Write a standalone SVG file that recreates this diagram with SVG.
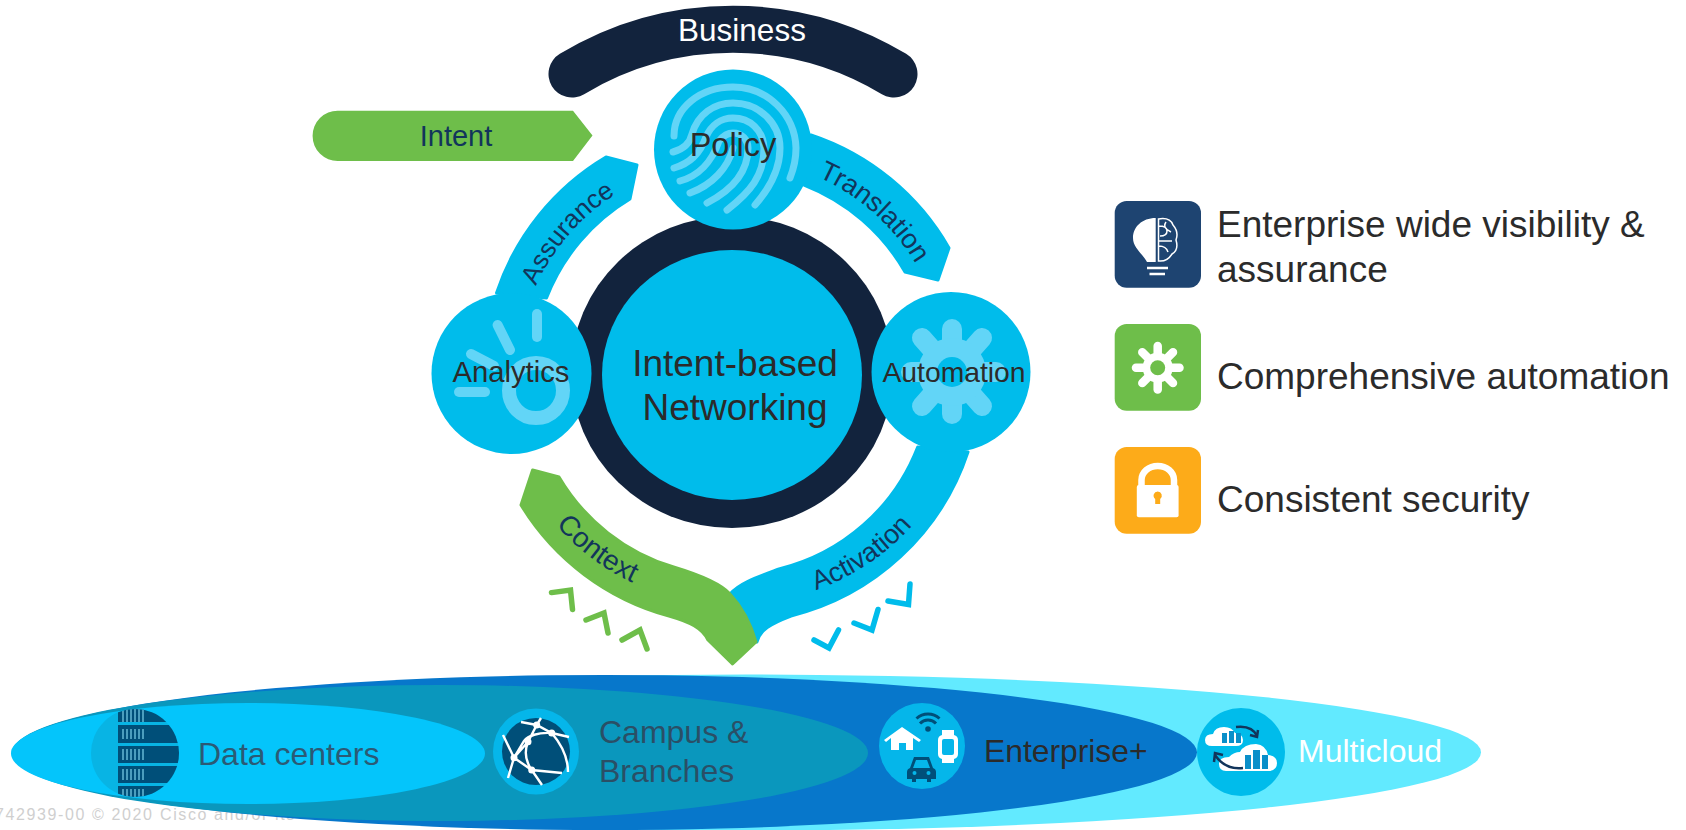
<svg xmlns="http://www.w3.org/2000/svg" width="1686" height="830" viewBox="0 0 1686 830">
<style>
text{font-family:"Liberation Sans",Arial,sans-serif;fill:#2b2b2b}
.blue{fill:#00BCEB}.green{fill:#6EBE4A}
.conn{stroke-width:3;stroke-linejoin:round}
.conn.blue{stroke:#00BCEB}.conn.green{stroke:#6EBE4A}
.cl{font-size:27px;fill:#12355B}
.pale{fill:none;stroke:#62D5F7;stroke-linecap:round}
.chevg{fill:none;stroke:#6EBE4A;stroke-width:5.500;stroke-linecap:round}
.chevb{fill:none;stroke:#00BCEB;stroke-width:5.500;stroke-linecap:round}
.dark{fill:#004F79}
.side{font-size:37px}
.band{font-size:32px}
</style>
<defs>
<clipPath id="dcClip"><ellipse cx="135" cy="753" rx="44" ry="44"/></clipPath>
<path id="pTranslation" d="M818 177A214 214 0 0 1 940 325"/>
<path id="pAssurance" d="M536 286A213 213 0 0 1 640 181"/>
<path id="pContext" d="M556 525A232 232 0 0 0 680 599"/>
<path id="pActivation" d="M816 590A232 232 0 0 0 940 487"/>
</defs>
<rect width="1686" height="830" fill="#fff"/>

<text y="820" font-size="16" style="fill:#cfcfcf" letter-spacing="1.600"><tspan x="-5">742939-00 © 2020</tspan><tspan x="160">Cisco and/or its</tspan></text>

<g id="band">
<ellipse cx="746" cy="752.500" rx="735" ry="78" fill="#62EAFF"/>
<ellipse cx="605" cy="752.500" rx="592" ry="77.500" fill="#0777CB"/>
<ellipse cx="440" cy="753" rx="428" ry="68" fill="#0A97BD"/>
<ellipse cx="248" cy="753.500" rx="237" ry="50.500" fill="#04C5FB"/>
</g>

<g id="data-centers">
<ellipse cx="135" cy="753" rx="44" ry="44" fill="#08B4E4"/>
<g clip-path="url(#dcClip)">
<rect class="dark" x="118" y="708" width="62" height="14"/>
<rect class="dark" x="118" y="725" width="62" height="18"/>
<rect class="dark" x="118" y="746" width="62" height="17"/>
<rect class="dark" x="118" y="766" width="62" height="17"/>
<rect class="dark" x="118" y="786" width="62" height="12"/>
<path d="M123 708V722M127 708V722M131 708V722M135 708V722M139 708V722M143 708V722M123 729V739M127 729V739M131 729V739M135 729V739M139 729V739M143 729V739M123 749V760M127 749V760M131 749V760M135 749V760M139 749V760M143 749V760M123 769V780M127 769V780M131 769V780M135 769V780M139 769V780M143 769V780M123 789V798M127 789V798M131 789V798M135 789V798M139 789V798M143 789V798" stroke="#7FD3EC" stroke-width="1.200" fill="none"/>
</g>
<text class="band" x="198" y="765" style="fill:#2B5A75">Data centers</text>
</g>

<g id="campus">
<ellipse cx="536" cy="751.500" rx="43" ry="43" fill="#05B6EA"/>
<ellipse class="dark" cx="536" cy="751.500" rx="34" ry="33.500"/>
<path d="M521 722L536.700 725L551.700 733L569 737M541 718L536.700 725L528 741.700L514 757.700L503 735M551.700 733C538 732 528 736 524 741L514 757.700L508 778M528 741.700C524 752 526 762 531.700 770L542 785M514 757.700L531.700 770L562 773M551.700 733C562 745 568 757 568 772" fill="none" stroke="#fff" stroke-width="2.400"/>
<g fill="#fff"><circle cx="536.700" cy="725" r="3.500"/><circle cx="551.700" cy="733" r="3.500"/><circle cx="528" cy="741.700" r="3.500"/><circle cx="514" cy="757.700" r="3.500"/><circle cx="531.700" cy="770" r="3.500"/></g>
<text class="band" x="599" y="743" style="fill:#2A4F66">Campus &amp;</text>
<text class="band" x="599" y="782" style="fill:#2A4F66">Branches</text>
</g>

<g id="enterprise">
<ellipse cx="922" cy="746" rx="43" ry="43" fill="#05B6EA"/>
<path d="M884 740L902 727L921 740L919 742L913 738V750H906V743H899V750H891V738L886 742Z" fill="#fff"/>
<path d="M916.500 718.500A17 17 0 0 1 939.500 718.500M920 723.500A11 11 0 0 1 936 723.500" fill="none" stroke="#004F79" stroke-width="3"/>
<circle class="dark" cx="928" cy="729" r="2.800"/>
<path d="M942 730H954V735Q958 736 958 740V754Q958 758 954 759V763H942V759Q938 758 938 754V740Q938 736 942 735Z" fill="#fff"/>
<rect x="942" y="739" width="12" height="16" rx="2" fill="#05B6EA"/>
<path class="dark" d="M914 757H929L933 768Q936 769 936 772V779H931V782H927V779H916V782H912V779H907V772Q907 769 910 768ZM916 760L913 768H930L927 760Z"/>
<circle cx="914.500" cy="773" r="2" fill="#05B6EA"/><circle cx="928.500" cy="773" r="2" fill="#05B6EA"/>
<text class="band" x="984" y="762" style="font-size:31.800px">Enterprise+</text>
</g>

<g id="multicloud">
<ellipse cx="1241" cy="752" rx="44" ry="44" fill="#00BCEB"/>
<path d="M1212 746Q1205 746 1205 740Q1205 734 1213 734Q1215 727 1224 727Q1232 727 1235 733Q1243 734 1243 740Q1243 746 1236 746Z" fill="#fff"/>
<path d="M1226 771Q1219 771 1219 764Q1219 757 1229 757Q1234 752 1240 752Q1244 744 1256 744Q1266 745 1268 755Q1277 756 1277 763Q1277 771 1268 771Z" fill="#fff"/>
<g fill="#0A8FC9"><rect x="1222" y="733" width="5" height="10"/><rect x="1229" y="731" width="5" height="12"/><rect x="1236" y="733" width="5" height="10"/><rect x="1245" y="755" width="6" height="14"/><rect x="1253" y="750" width="7" height="19"/><rect x="1262" y="755" width="6" height="14"/></g>
<path d="M1236 727Q1252 725 1257 736M1258 730L1257 737L1250 735M1243 768Q1225 770 1215 755M1214 762L1215 753L1223 755" fill="none" stroke="#12355B" stroke-width="2.500"/>
<text class="band" x="1298" y="762" style="fill:#fff">Multicloud</text>
</g>

<g id="connectors">
<path class="blue conn" d="M811 135A250 250 0 0 1 949 248L938 280L905 272A200 200 0 0 0 804 185Z"/>
<path class="blue conn" d="M606 157L637 165L630 199A200 200 0 0 0 546.500 298L496.500 293A250 250 0 0 1 606 157Z"/>
<path class="blue conn" d="M917.700 447A200 200 0 0 1 779 569C755 578 740 583 730 594L757 642C760 630 770 624 791 616A250 250 0 0 0 968 452Z"/>
<path class="green conn" d="M532.600 470L559 477A200 200 0 0 0 673.600 567C700 575 722 585 730 594C745 610 752 628 756 642L732.500 664L708 640C702 628 690 622 669 616A250 250 0 0 1 521 505Z"/>
<polyline class="chevg" points="551.500,592.600 570.500,590 572.500,609.500"/>
<polyline class="chevg" points="586,620 604,613 608,633"/>
<polyline class="chevg" points="622,640 640,630 647,649"/>
<polyline class="chevb" points="814,640 829,648 838.500,630"/>
<polyline class="chevb" points="854,623 872,630 878,609.500"/>
<polyline class="chevb" points="888,601 908.500,604.500 910,584"/>
<text class="cl"><textPath href="#pTranslation">Translation</textPath></text>
<text class="cl" style="font-size:26px"><textPath href="#pAssurance">Assurance</textPath></text>
<text class="cl" style="font-size:28px"><textPath href="#pContext">Context</textPath></text>
<text class="cl"><textPath href="#pActivation">Activation</textPath></text>
</g>

<g id="business">
<path d="M572 74A312 312 0 0 1 894 74" fill="none" stroke="#12233D" stroke-width="47" stroke-linecap="round"/>
<text x="742" y="41" font-size="31.500" text-anchor="middle" style="fill:#fff">Business</text>
</g>

<g id="intent">
<path class="green" d="M338 110.700H573L592.500 135.500L573 161H338A25 25 0 0 1 312.600 136A25 25 0 0 1 338 110.700Z"/>
<text x="456" y="146" font-size="29" text-anchor="middle" style="fill:#12355B">Intent</text>
</g>

<g id="ibn">
<ellipse cx="732" cy="372" rx="161" ry="156" fill="#12233D"/>
<ellipse class="blue" cx="732" cy="375" rx="130" ry="125"/>
<text x="735" y="375.500" font-size="37" text-anchor="middle">Intent-based</text>
<text x="735" y="420" font-size="37" text-anchor="middle">Networking</text>
</g>

<g id="policy">
<ellipse class="blue" cx="733" cy="149.500" rx="79" ry="80"/>
<g class="pale" stroke-width="7">
<path d="M674 136C674 108 700 87 733 87C768 87 795 115 796 148C796 158 794 168 790 178"/>
<path d="M673 152C684 149 690 143 692 134C698 114 714 103 733 103C760 103 780 124 780 148C780 170 770 188 755 205"/>
<path d="M674 168C688 164 700 154 706 137C711 125 721 118 733 118C750 118 763 130 764 148C764 176 750 192 727 210"/>
<path d="M680 181C698 176 712 162 719 141C723 136 728 133 733 133C742 133 748 140 748 148C748 172 732 190 707 203"/>
<path d="M690 193C712 185 728 168 733 148"/>
</g>
<text x="733" y="156" font-size="32.500" text-anchor="middle">Policy</text>
</g>

<g id="analytics">
<ellipse class="blue" cx="511.500" cy="373.500" rx="80" ry="80.500"/>
<ellipse cx="536" cy="390.600" rx="27" ry="27.500" fill="none" stroke="#62D5F7" stroke-width="14"/>
<g class="pale" stroke-width="10">
<path d="M537 314V337"/><path d="M497.600 325L510 350"/><path d="M471 354L494 366"/><path d="M459 392H485"/>
</g>
<text x="511" y="382" font-size="29.200" text-anchor="middle">Analytics</text>
</g>

<g id="automation">
<ellipse class="blue" cx="951" cy="372" rx="79.500" ry="80"/>
<g class="pale" stroke-width="20">
<path d="M952 329V414"/><path d="M911 372H996"/><path d="M922 338L982 406"/><path d="M982 338L922 406"/>
</g>
<circle cx="952" cy="372" r="34" fill="#62D5F7"/>
<circle cx="952" cy="372" r="15" fill="#00BCEB"/>
<text x="954" y="382" font-size="28.300" text-anchor="middle">Automation</text>
</g>

<g id="visibility">
<rect x="1114.700" y="201" width="86.300" height="86.700" rx="12" fill="#1E4471"/>
<path d="M1155.700 218C1142 218 1133 227 1133 238C1133 248 1143 254 1147 262H1155.700Z" fill="#fff"/>
<path d="M1158.500 219Q1170 217 1173 225Q1179 232 1176 240Q1179 250 1172 254Q1167 262 1158.500 261ZM1159 226Q1167 226 1167 231T1160 236M1159 241H1172M1159 246Q1166 246 1168 252M1166 222Q1162 228 1171 232" fill="none" stroke="#fff" stroke-width="1.500"/>
<path d="M1147 268H1168M1149.500 274H1165" stroke="#fff" stroke-width="2.500"/>
<text class="side" x="1217" y="237">Enterprise wide visibility &amp;</text>
<text class="side" x="1217" y="282">assurance</text>
</g>

<g id="comprehensive-automation">
<rect x="1114.700" y="324" width="86.300" height="86.700" rx="12" fill="#6EBE4A"/>
<g stroke="#fff" stroke-width="8.500" stroke-linecap="round">
<path d="M1157.700 346V389.500"/><path d="M1136 367.700H1179.500"/><path d="M1142.300 352.300L1173 383"/><path d="M1173 352.300L1142.300 383"/>
</g>
<circle cx="1157.700" cy="367.700" r="15" fill="#fff"/>
<circle cx="1157.700" cy="367.700" r="7.500" fill="#6EBE4A"/>
<text class="side" x="1217" y="389">Comprehensive automation</text>
</g>

<g id="security">
<rect x="1114.700" y="447" width="86.300" height="86.700" rx="12" fill="#FDAB19"/>
<path d="M1141.500 486V480A16.200 14 0 0 1 1174 480V486" fill="none" stroke="#fff" stroke-width="6.500"/>
<rect x="1136.800" y="485" width="41.800" height="32.300" rx="2" fill="#fff"/>
<path d="M1157.700 491.500a4.200 4.200 0 0 1 2.500 7.500v5h-5v-5a4.200 4.200 0 0 1 2.500-7.500z" fill="#FDAB19"/>
<text class="side" x="1217" y="512">Consistent security</text>
</g>
</svg>
